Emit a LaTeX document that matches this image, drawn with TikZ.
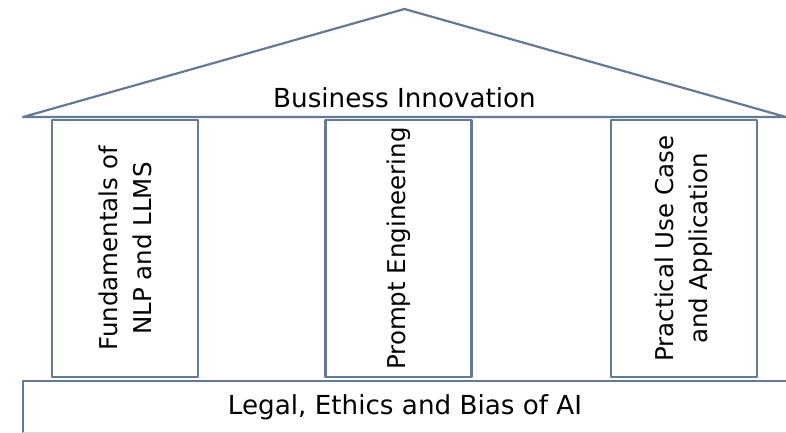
\documentclass[tikz,border=0pt]{standalone}
\usepackage{fontspec}
\setmainfont{DejaVu Sans}
\usepackage{tikz}
\definecolor{slate}{RGB}{100,121,146}

\begin{document}
\begin{tikzpicture}[line cap=round,line join=round,x=1pt,y=-1pt,
    pillar/.style={draw=slate,line width=2.2pt,rotate=90,minimum width=257pt,minimum height=146pt,align=center,inner sep=0pt,
        font=\fontsize{24.5}{34}\selectfont},
    txt/.style={font=\fontsize{26.2}{34}\selectfont}]
    \useasboundingbox (0,0) rectangle (786,433);
    \clip (0,0) rectangle (786,433);
    \draw [line width=2.2pt,slate] (23,117)-- (404.5,9)-- (786,117)-- cycle;
    \node [txt] (roof) at (404.5,98) {Business Innovation};
    \node [pillar] (nlp) at (125,248.5) {Fundamentals of\\NLP and LLMS};
    \node [pillar] (prompt) at (398.5,248.5) {Prompt Engineering};
    \node [pillar] (usecase) at (684,248.5) {Practical Use Case\\and Application};
    \draw [line width=2.2pt,slate] (23,433)-- (23,381)-- (790,381);
    \draw [line width=1pt,black!15] (23,432.5)-- (790,432.5);
    \node [txt] (legal) at (405,407) {Legal, Ethics and Bias of AI};
    \end{tikzpicture}
\end{document}
